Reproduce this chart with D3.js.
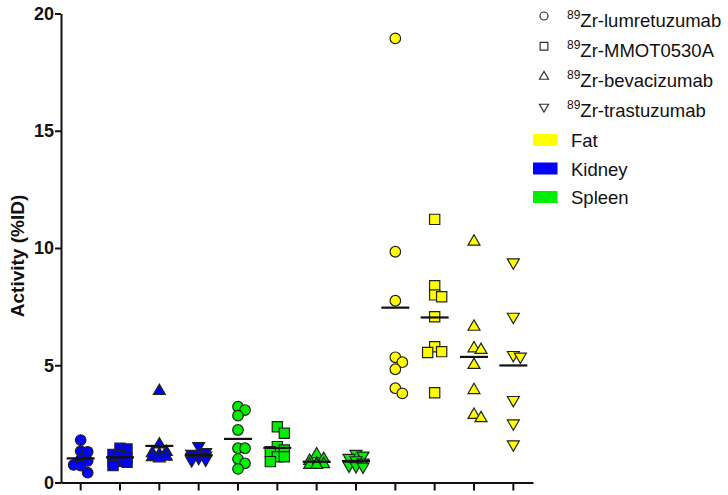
<!DOCTYPE html>
<html><head><meta charset="utf-8">
<script src="https://cdn.jsdelivr.net/npm/d3@7"></script>
<style>
html,body{margin:0;padding:0;background:#fff;}
svg{display:block;font-family:Arial,"Liberation Sans",sans-serif;}
</style></head>
<body>
<svg id="chart" width="728" height="495"></svg>
<script>
// ---- data ----
const organs = ["Kidney", "Spleen", "Fat"];
const organColors = ["#0000ff", "#00ee00", "#ffff00"];
const legendOrgans = ["Fat", "Kidney", "Spleen"];
const tracers = ["lumretuzumab", "MMOT0530A", "bevacizumab", "trastuzumab"];
const yTicks = [0, 5, 10, 15, 20];

const kidneyLum  = [1.81, 1.34, 1.31, 0.96, 0.92, 0.75, 0.72, 0.42];
const kidneyMMOT = [1.46, 1.43, 1.20, 1.14, 1.03, 0.92, 0.90, 0.86, 0.72];
const kidneyBev  = [3.90, 1.62, 1.30, 1.25, 1.20, 1.10, 1.08, 1.03];
const kidneyTras = [1.55, 1.30, 1.22, 1.18, 1.15, 1.10, 1.05, 0.98, 0.95];
const spleenLum  = [3.23, 3.09, 2.85, 2.24, 1.46, 1.46, 1.00, 0.82, 0.58];
const spleenMMOT = [2.38, 2.10, 1.53, 1.39, 1.31, 1.10, 1.10, 0.89];
const spleenBev  = [1.20, 1.00, 0.92, 0.80, 0.78, 0.75, 0.75];
const spleenTras = [1.22, 1.15, 1.05, 0.95, 0.85, 0.72, 0.70, 0.68];
const fatLum     = [18.94, 9.84, 7.75, 5.34, 5.13, 4.83, 4.02, 3.80];
const fatMMOT    = [11.22, 8.39, 8.00, 7.92, 7.07, 5.79, 5.58, 5.54, 3.83];
const fatBev     = [10.27, 6.64, 5.72, 5.65, 5.01, 3.94, 2.88, 2.74];
const fatTras    = [9.39, 7.07, 5.44, 5.37, 3.52, 2.52, 1.63];

const groups = [
  {organ: 0, tracer: 0, values: kidneyLum},
  {organ: 0, tracer: 1, values: kidneyMMOT},
  {organ: 0, tracer: 2, values: kidneyBev},
  {organ: 0, tracer: 3, values: kidneyTras},
  {organ: 1, tracer: 0, values: spleenLum},
  {organ: 1, tracer: 1, values: spleenMMOT},
  {organ: 1, tracer: 2, values: spleenBev},
  {organ: 1, tracer: 3, values: spleenTras},
  {organ: 2, tracer: 0, values: fatLum},
  {organ: 2, tracer: 1, values: fatMMOT},
  {organ: 2, tracer: 2, values: fatBev},
  {organ: 2, tracer: 3, values: fatTras}
];

// ---- layout ----
const svg = d3.select("#chart");
const x = d3.scaleBand().domain(d3.range(groups.length)).range([61, 533]).padding(0);
const y = d3.scaleLinear().domain([0, 20]).range([482.5, 13.5]);
const ink = "#111";

const symbolTypes = [d3.symbolCircle, d3.symbolSquare, d3.symbolTriangle, d3.symbolTriangle];
const symbolSizes = [88, 105, 62, 62];
const symbolRot = [0, 0, 0, 180];

// y axis
const yAxis = svg.append("g").attr("transform", "translate(61,0)")
  .call(d3.axisLeft(y).tickValues(yTicks).tickSize(6).tickSizeOuter(0).tickPadding(1));
yAxis.selectAll("path.domain").attr("stroke", ink).attr("stroke-width", 2);
yAxis.selectAll(".tick line").attr("stroke", ink).attr("stroke-width", 2);
yAxis.selectAll(".tick text").attr("fill", ink).style("font-size", "18px").style("font-weight", "bold")
  .style("font-family", "Arial, 'Liberation Sans', sans-serif");

// x axis
const xAxis = svg.append("g").attr("transform", "translate(0,482.5)")
  .call(d3.axisBottom(x).tickSize(8).tickSizeOuter(0).tickFormat(""));
xAxis.selectAll("path.domain").attr("stroke", ink).attr("stroke-width", 2);
xAxis.selectAll(".tick line").attr("stroke", ink).attr("stroke-width", 2);

// y label
svg.append("text")
  .attr("transform", "translate(24," + ((y(0) + y(20)) / 2 + 8) + ") rotate(-90)")
  .attr("text-anchor", "middle").attr("fill", ink)
  .style("font-size", "19px").style("font-weight", "bold")
  .text("Activity (%ID)");

// beeswarm offsets computed from the data (limited spread, overlap allowed)
function swarm(vals, step, minDist) {
  const pts = vals.map(v => ({v: v, py: y(v), dx: 0}));
  const order = pts.slice().sort((a, b) => b.v - a.v);
  const placed = [];
  const cands = [0, step, -step];
  order.forEach(p => {
    let best = 0, bestD = -1, found = false;
    for (const c of cands) {
      const d = placed.length ? d3.min(placed, q => Math.hypot(q.dx - c, q.py - p.py)) : Infinity;
      if (d >= minDist) { p.dx = c; found = true; break; }
      if (d > bestD) { bestD = d; best = c; }
    }
    if (!found) p.dx = best;
    placed.push(p);
  });
  return pts;
}

groups.forEach((g, i) => {
  const cx = x(i) + x.bandwidth() / 2;
  const pts = swarm(g.values, 7, 8.5);
  const sym = d3.symbol().type(symbolTypes[g.tracer]).size(symbolSizes[g.tracer]);
  const gg = svg.append("g");
  gg.selectAll("path.pt").data(pts).enter().append("path")
    .attr("class", "pt")
    .attr("d", sym)
    .attr("transform", d => "translate(" + (cx + d.dx) + "," + d.py + ") rotate(" + symbolRot[g.tracer] + ")")
    .attr("fill", organColors[g.organ])
    .attr("stroke", "#222").attr("stroke-width", 1.2);
  const m = d3.mean(g.values);
  gg.append("line")
    .attr("x1", cx - 14).attr("x2", cx + 14)
    .attr("y1", y(m)).attr("y2", y(m))
    .attr("stroke", ink).attr("stroke-width", 2.2);
});

// legend: tracers
const leg = svg.append("g");
const legSymSizes = [50, 60, 36, 36];
tracers.forEach((t, i) => {
  const yy = 16 + i * 30.3;
  leg.append("path")
    .attr("d", d3.symbol().type(symbolTypes[i]).size(legSymSizes[i]))
    .attr("transform", "translate(544," + yy + ") rotate(" + symbolRot[i] + ")")
    .attr("fill", "#fff").attr("stroke", "#333").attr("stroke-width", 1.2);
  const tx = leg.append("text").attr("x", 567).attr("y", yy + 10.5).attr("fill", ink)
    .style("font-size", "18.5px");
  tx.append("tspan").attr("dy", -8).style("font-size", "12px").text("89");
  tx.append("tspan").attr("dy", 8).text("Zr-" + t);
});

// legend: organs
legendOrgans.forEach((o, i) => {
  const yy = 140 + i * 28.5;
  const idx = organs.indexOf(o);
  leg.append("rect").attr("x", 533).attr("y", yy - 6).attr("width", 24.5).attr("height", 12)
    .attr("fill", organColors[idx]);
  leg.append("text").attr("x", 571).attr("y", yy + 7).attr("fill", ink)
    .style("font-size", "18.5px").text(o);
});
</script>
</body></html>
